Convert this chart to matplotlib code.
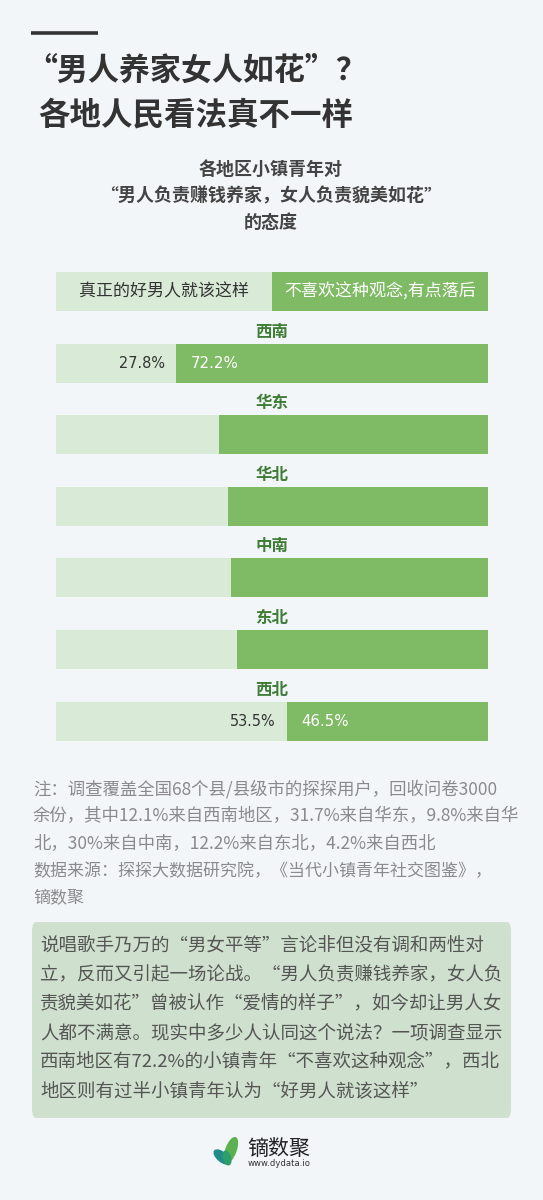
import matplotlib.pyplot as plt
from matplotlib.patches import FancyBboxPatch, Ellipse

plt.rcParams['font.family'] = ['Noto Sans CJK SC', 'DejaVu Sans']

# data
regions = ['西南', '华东', '华北', '中南', '东北', '西北']
agree = [27.8, 37.7, 39.8, 40.5, 41.9, 53.5]
disagree = [72.2, 62.3, 60.2, 59.5, 58.1, 46.5]
shown_labels = ['西南', '西北']
legend_labels = ['真正的好男人就该这样', '不喜欢这种观念,有点落后']

BG = '#f3f6f9'
LIGHT = '#d9ebd7'
DARK = '#7fba64'
LABEL_GREEN = '#3f7d37'

W, H = 543, 1200
fig = plt.figure(figsize=(W / 100, H / 100), dpi=100, facecolor=BG)


def px(x, y):
    return x / W, 1 - y / H


def fs(p):
    return p * 72 / 100


# title block
fig.add_artist(plt.Line2D([31 / W, 98 / W], [1 - 32.5 / H] * 2, color='#333333', lw=2.6,
                          solid_capstyle='butt'))
fig.text(*px(26, 71), '“男人养家女人如花”？', fontsize=fs(31), fontweight='bold',
         color='#333333', va='center', ha='left')
fig.text(*px(38, 115), '各地人民看法真不一样', fontsize=fs(31.5), fontweight='bold',
         color='#333333', va='center', ha='left')

sub = ['各地区小镇青年对', '“男人负责赚钱养家，女人负责貌美如花”', '的态度']
for k, s in enumerate(sub):
    fig.text(*px(271, 170 + 26.5 * k), s, fontsize=fs(18), fontweight='bold',
             color='#444444', ha='center', va='center')

# bar chart
row0, step = 291.5, 71.6
top_px, bot_px = 240, 760
ax = fig.add_axes([56 / W, 1 - bot_px / H, 432 / W, (bot_px - top_px) / H])
ax.set_facecolor('none')
ax.set_xlim(0, 100)
ax.set_ylim((bot_px - row0) / step, (top_px - row0) / step)
ax.axis('off')
bh = 39 / step

# header row
ax.barh(0, 50, height=bh, color=LIGHT)
ax.barh(0, 50, left=50, height=bh, color=DARK)
ax.text(25, 0, legend_labels[0], fontsize=fs(17), color='#333333', ha='center', va='center')
ax.text(75, 0, legend_labels[1], fontsize=fs(17), color='white', ha='center', va='center')

ys = [i + 1 for i in range(len(regions))]
ax.barh(ys, agree, height=bh, color=LIGHT)
ax.barh(ys, disagree, left=agree, height=bh, color=DARK)
for y, name, a, d in zip(ys, regions, agree, disagree):
    ax.text(50, y - 31.5 / step, name, fontsize=fs(16.5), fontweight='bold',
            color=LABEL_GREEN, ha='center', va='center')
    if name in shown_labels:
        ax.text(a - 2.6, y, f'{a}%', fontsize=fs(14.5), color='#333333',
                family='DejaVu Sans', ha='right', va='center')
        ax.text(a + 3.3, y, f'{d}%', fontsize=fs(15), color='white',
                family='DejaVu Sans', ha='left', va='center')

# notes
notes = ['注：调查覆盖全国68个县/县级市的探探用户，回收问卷3000',
         '余份，其中12.1%来自西南地区，31.7%来自华东，9.8%来自华',
         '北，30%来自中南，12.2%来自东北，4.2%来自西北']
for k, s in enumerate(notes):
    fig.text(*px(33, 789 + 27 * k), s, fontsize=fs(17.4), color='#8a8a8a', va='center')
src = ['数据来源：探探大数据研究院，《当代小镇青年社交图鉴》，', '镝数聚']
for k, s in enumerate(src):
    fig.text(*px(33, 871 + 27 * k), s, fontsize=fs(17), color='#8a8a8a', va='center')

# text box
x0, y0 = px(32, 1118)
x1, y1 = px(511, 922)
fig.add_artist(FancyBboxPatch((x0, y0), x1 - x0, y1 - y0,
                              boxstyle='round,pad=0,rounding_size=0.008',
                              transform=fig.transFigure, fc='#cfe1ce', ec='none'))
para = ['说唱歌手乃万的“男女平等”言论非但没有调和两性对',
        '立，反而又引起一场论战。“男人负责赚钱养家，女人负',
        '责貌美如花”曾被认作“爱情的样子”，如今却让男人女',
        '人都不满意。现实中多少人认同这个说法？一项调查显示',
        '西南地区有72.2%的小镇青年“不喜欢这种观念”，西北',
        '地区则有过半小镇青年认为“好男人就该这样”']
for k, s in enumerate(para):
    fig.text(*px(40, 946 + 29.2 * k), s, fontsize=fs(18.5), color='#555555', va='center')

# logo
lax = fig.add_axes([212 / W, 1 - 1168 / H, 30 / W, 32 / H])
lax.set_xlim(0, 30)
lax.set_ylim(32, 0)
lax.axis('off')
lax.add_patch(Ellipse((19, 14), 10, 26, angle=20, color='#5bb04f'))
lax.add_patch(Ellipse((10, 21), 9, 19, angle=-50, color='#1f8c8a'))
lax.add_patch(Ellipse((15, 22), 7, 14, angle=-15, color='#2e9e6b'))
fig.text(*px(247, 1149), '镝数聚', fontsize=fs(21), color='#222222', va='center')
fig.text(*px(248, 1163), 'www.dydata.io', fontsize=fs(8.5), color='#333333', va='center',
         family='DejaVu Sans')

fig.savefig('out.png', dpi=100, facecolor=BG)
